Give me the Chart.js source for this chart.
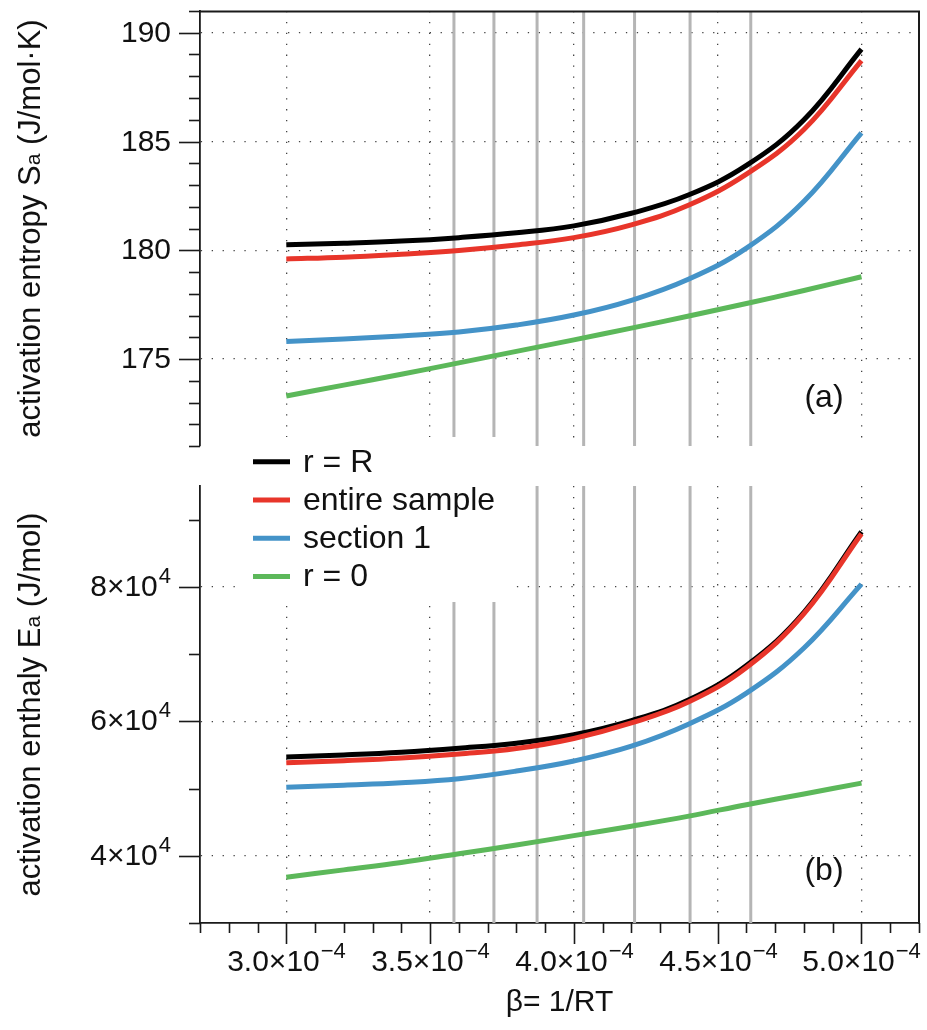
<!DOCTYPE html>
<html>
<head>
<meta charset="utf-8">
<script src="https://cdn.jsdelivr.net/npm/chart.js@4.4.1/dist/chart.umd.min.js"></script>
<style>
  html, body { margin: 0; padding: 0; background: #fff; overflow: hidden; }
  #wrap { position: relative; width: 927px; height: 1030px; }
  #topChart { position: absolute; left: 0; top: 0; z-index: 1; }
  #bottomChart { position: absolute; left: 0; top: 430px; z-index: 2; }
</style>
</head>
<body>
<div id="wrap">
  <canvas id="topChart" width="927" height="455"></canvas>
  <canvas id="bottomChart" width="927" height="600"></canvas>
</div>
<script>
// beta = 1/RT
const betaValues = [3.0e-4, 3.2e-4, 3.4e-4, 3.6e-4, 3.8e-4, 4.0e-4, 4.2e-4, 4.4e-4, 4.6e-4, 4.8e-4, 5.0e-4];

// activation entropy S_a (J/mol·K)
const entropyRR      = [180.25, 180.32, 180.42, 180.58, 180.80, 181.12, 181.70, 182.55, 183.90, 186.00, 189.25];
const entropyEntire  = [179.60, 179.68, 179.82, 179.99, 180.24, 180.58, 181.17, 182.08, 183.50, 185.55, 188.72];
const entropySection = [175.80, 175.92, 176.06, 176.24, 176.56, 177.02, 177.70, 178.68, 180.10, 182.25, 185.40];
const entropyR0      = [173.30, 173.80, 174.30, 174.82, 175.35, 175.88, 176.42, 176.98, 177.55, 178.15, 178.78];

// activation enthalpy E_a (J/mol)
const enthalpyRR      = [54700, 55000, 55400, 56000, 56750, 58000, 60100, 63200, 68300, 76200, 88200];
const enthalpyEntire  = [53850, 54150, 54550, 55150, 55950, 57450, 59750, 62900, 68000, 76000, 87900];
const enthalpySection = [50200, 50500, 50850, 51450, 52600, 54100, 56300, 59600, 64200, 70900, 80400];
const enthalpyR0      = [36800, 37900, 39000, 40300, 41600, 43000, 44400, 45900, 47600, 49200, 50800];

// grey vertical reference lines (beta of measured temperatures)
const markerBetas = [3.583e-4, 3.722e-4, 3.872e-4, 4.034e-4, 4.211e-4, 4.404e-4, 4.615e-4];

const seriesNames  = ['r = R', 'entire sample', 'section 1', 'r = 0'];
const seriesColors = ['#000000', '#e8352a', '#4493c8', '#5cb85a'];

// axis ticks
const xMin = 2.7e-4, xMax = 5.2e-4, xMinor = 1e-5, xMajor = 5e-5;
const xTickMantissas = ['3.0', '3.5', '4.0', '4.5', '5.0'];
const topYMin = 171, topYMax = 191;
const botYMin = 30000, botYMax = 95000;

const FONT = '"Liberation Sans", Arial, Helvetica, sans-serif';
const DOTS = [1.3, 9.6];
const AXIS = '#1a1a1a';

function near(v, step) {
  const r = v / step;
  return Math.abs(r - Math.round(r)) < 1e-6;
}

function seg(ctx, x1, y1, x2, y2) {
  ctx.beginPath();
  ctx.moveTo(x1, y1);
  ctx.lineTo(x2, y2);
  ctx.stroke();
}

function drawSci(ctx, base, exp, x, y, align) {
  ctx.font = '30px ' + FONT;
  const w1 = ctx.measureText(base).width;
  ctx.font = '22px ' + FONT;
  const w2 = ctx.measureText(exp).width;
  const x0 = align === 'right' ? x - w1 - w2 - 1 : x - (w1 + w2 + 1) / 2;
  ctx.textAlign = 'left';
  ctx.textBaseline = 'middle';
  ctx.font = '30px ' + FONT;
  ctx.fillText(base, x0, y);
  ctx.font = '22px ' + FONT;
  ctx.fillText(exp, x0 + w1 + 1, y - 11);
}

function drawVerticalTitle(ctx, parts, x, y) {
  ctx.save();
  ctx.translate(x, y);
  ctx.rotate(-Math.PI / 2);
  ctx.textBaseline = 'middle';
  ctx.textAlign = 'left';
  let total = 0;
  parts.forEach(p => { ctx.font = p.size + 'px ' + FONT; total += ctx.measureText(p.text).width; });
  let px = -total / 2;
  parts.forEach(p => {
    ctx.font = p.size + 'px ' + FONT;
    ctx.fillText(p.text, px, p.dy || 0);
    px += ctx.measureText(p.text).width;
  });
  ctx.restore();
}

function curves(values) {
  return values.map((arr, i) => ({
    label: seriesNames[i],
    data: arr.map((v, j) => ({ x: betaValues[j], y: v })),
    borderColor: seriesColors[i],
    borderWidth: 5,
    pointRadius: 0,
    tension: 0.4,
    order: 4 - i
  }));
}

function markers(yMin, yMax) {
  return markerBetas.map(b => ({
    label: 'marker',
    data: [{ x: b, y: yMin }, { x: b, y: yMax }],
    borderColor: '#b5b5b5',
    borderWidth: 3,
    pointRadius: 0,
    order: 10
  }));
}

function gridColor(step) {
  return c => (c.tick && near(c.tick.value, step)) ? '#444' : 'rgba(0,0,0,0)';
}

function scalesFor(yMin, yMax, yStep, yMajor, showX, xHeight) {
  return {
    x: {
      type: 'linear', min: xMin, max: xMax,
      ticks: { display: false, stepSize: xMinor },
      grid: { color: gridColor(xMajor), lineWidth: 1.3, drawTicks: false },
      border: { display: showX, color: AXIS, width: 1.8, dash: DOTS },
      afterFit: s => { s.height = xHeight; }
    },
    y: {
      type: 'linear', min: yMin, max: yMax,
      ticks: { display: false, stepSize: yStep },
      grid: { color: gridColor(yMajor), lineWidth: 1.3, drawTicks: false },
      border: { display: true, color: AXIS, width: 1.8, dash: DOTS },
      afterFit: s => { s.width = 200; }
    }
  };
}

// ticks, labels, titles and frame
const decorPlugin = {
  id: 'decor',
  afterDraw(chart, args, o) {
    const ctx = chart.ctx;
    const a = chart.chartArea;
    const xs = chart.scales.x, ys = chart.scales.y;
    ctx.save();
    ctx.strokeStyle = AXIS;
    ctx.fillStyle = '#111';
    ctx.lineWidth = 1.6;
    ys.ticks.forEach(t => {
      if (!near(t.value, o.yMinor)) return;
      const y = Math.round(ys.getPixelForValue(t.value)) + 0.5;
      const major = near(t.value, o.yMajor);
      const len = major ? 21 : 11;
      seg(ctx, a.left - len, y, a.left, y);
      if (major) o.yLabel(ctx, t.value, a.left - len - 8, y);
    });
    if (o.xAxis) {
      xs.ticks.forEach(t => {
        if (!near(t.value, xMinor)) return;
        const x = Math.round(xs.getPixelForValue(t.value)) + 0.5;
        const major = near(t.value, xMajor);
        seg(ctx, x, a.bottom, x, a.bottom + (major ? 21 : 10));
        if (major) {
          const k = Math.round((t.value - 3.0e-4) / xMajor);
          drawSci(ctx, xTickMantissas[k] + '\u00d710', '\u22124', x, a.bottom + 40, 'center');
        }
      });
      ctx.font = '30px ' + FONT;
      ctx.textAlign = 'center';
      ctx.textBaseline = 'middle';
      ctx.fillText('\u03b2= 1/RT', (a.left + a.right) / 2, a.bottom + 80);
    }
    drawVerticalTitle(ctx, o.title, 31, (a.top + a.bottom) / 2);
    ctx.font = '32px ' + FONT;
    ctx.textAlign = 'center';
    ctx.textBaseline = 'middle';
    ctx.fillText(o.panel, a.right - 95, a.bottom - o.panelDy);
    // frame: top line and right-hand line
    ctx.strokeStyle = AXIS;
    ctx.lineWidth = 2;
    const r = Math.round(a.right);
    if (o.frameTop) {
      seg(ctx, a.left, a.top + 0.5, r + 1, a.top + 0.5);
      seg(ctx, r, a.top, r, chart.height);
    } else {
      seg(ctx, r, 0, r, a.bottom + 1);
    }
    ctx.restore();
  }
};

const legendPlugin = {
  id: 'boxLegend',
  afterDatasetsDraw(chart) {
    const ctx = chart.ctx;
    ctx.save();
    ctx.fillStyle = '#ffffff';
    ctx.fillRect(235, 7, 281, 165);
    ctx.font = '32px ' + FONT;
    ctx.textAlign = 'left';
    ctx.textBaseline = 'middle';
    seriesNames.forEach((name, i) => {
      const y = 31.7 + i * 38.3;
      ctx.strokeStyle = seriesColors[i];
      ctx.lineWidth = 5;
      seg(ctx, 253, y, 290, y);
      ctx.fillStyle = '#111';
      ctx.fillText(name, 303, y + 1);
    });
    ctx.restore();
  }
};

new Chart(document.getElementById('topChart'), {
  type: 'line',
  data: { datasets: [...markers(topYMin, topYMax), ...curves([entropyRR, entropyEntire, entropySection, entropyR0])] },
  options: {
    responsive: false,
    animation: false,
    layout: { padding: { left: 0, top: 11, right: 8, bottom: 9 } },
    plugins: {
      legend: { display: false },
      tooltip: { enabled: false },
      decor: {
        yMinor: 1, yMajor: 5, xAxis: false, frameTop: true, panel: '(a)', panelDy: 48,
        yLabel: (ctx, v, x, y) => {
          ctx.font = '30px ' + FONT; ctx.textAlign = 'right'; ctx.textBaseline = 'middle';
          ctx.fillText(String(Math.round(v)), x, y);
        },
        title: [{ text: 'activation entropy S', size: 31 }, { text: 'a', size: 21, dy: 3 }, { text: ' (J/mol\u00b7K)', size: 31 }]
      }
    },
    scales: scalesFor(topYMin, topYMax, 1, 5, false, 0)
  },
  plugins: [decorPlugin]
});

new Chart(document.getElementById('bottomChart'), {
  type: 'line',
  data: { datasets: [...markers(botYMin, botYMax), ...curves([enthalpyRR, enthalpyEntire, enthalpySection, enthalpyR0])] },
  options: {
    responsive: false,
    animation: false,
    layout: { padding: { left: 0, top: 56, right: 8, bottom: 0 } },
    plugins: {
      legend: { display: false },
      tooltip: { enabled: false },
      decor: {
        yMinor: 10000, yMajor: 20000, xAxis: true, frameTop: false, panel: '(b)', panelDy: 52,
        yLabel: (ctx, v, x, y) => drawSci(ctx, Math.round(v / 10000) + '\u00d710', '4', x, y, 'right'),
        title: [{ text: 'activation enthaly E', size: 31 }, { text: 'a', size: 21, dy: 3 }, { text: ' (J/mol)', size: 31 }]
      }
    },
    scales: scalesFor(botYMin, botYMax, 5000, 20000, true, 107)
  },
  plugins: [decorPlugin, legendPlugin]
});
</script>
</body>
</html>
